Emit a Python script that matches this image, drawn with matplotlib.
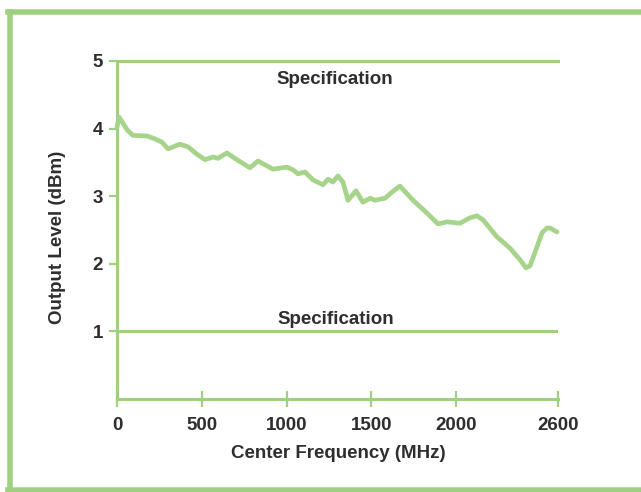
import matplotlib
matplotlib.use("Agg")
import matplotlib.pyplot as plt
from matplotlib.lines import Line2D

plt.rcParams['font.family'] = ['Liberation Sans', 'DejaVu Sans']
plt.rcParams['font.weight'] = 'bold'

freq_mhz = [0, 12, 30, 60, 94, 177, 212, 265, 301, 371, 419, 472, 519, 566, 595, 648,
            707, 784, 831, 920, 973, 1002, 1038, 1067, 1108, 1156, 1214, 1244, 1273,
            1303, 1332, 1362, 1409, 1450, 1492, 1521, 1580, 1621, 1668, 1745, 1828,
            1892, 1946, 2022, 2081, 2122, 2158, 2240, 2317, 2376, 2411, 2435, 2476,
            2506, 2535, 2553, 2594]
level_dbm = [4.02, 4.17, 4.10, 3.98, 3.90, 3.89, 3.86, 3.80, 3.70, 3.77, 3.73, 3.62,
             3.54, 3.58, 3.56, 3.64, 3.54, 3.42, 3.52, 3.40, 3.42, 3.43, 3.39, 3.33,
             3.36, 3.24, 3.17, 3.25, 3.21, 3.30, 3.21, 2.94, 3.08, 2.91, 2.97, 2.94,
             2.97, 3.06, 3.15, 2.94, 2.75, 2.59, 2.62, 2.60, 2.68, 2.71, 2.65, 2.40,
             2.23, 2.06, 1.94, 1.97, 2.25, 2.46, 2.53, 2.53, 2.47]
spec_upper = 5
spec_lower = 1
x_ticks = [0, 500, 1000, 1500, 2000, 2600]
x_tick_labels = ["0", "500", "1000", "1500", "2000", "2600"]
y_ticks = [1, 2, 3, 4, 5]
y_tick_labels = ["1", "2", "3", "4", "5"]

green = '#9fd080'
curve_green = '#a6d48a'
text_col = '#2e2e2e'
fs = 13.5

fig = plt.figure(figsize=(6.41, 4.92), dpi=100)
fig.patch.set_facecolor('white')
ax = fig.add_axes([117/641, 93/492, 441/641, 338/492])
ax.set_xlim(0, 2600)
ax.set_ylim(0, 5)

ax.plot(freq_mhz, level_dbm, color=curve_green, lw=3.4, solid_capstyle='round',
        solid_joinstyle='round', clip_on=False, zorder=3)
ax.axhline(spec_lower, color=green, lw=2.2, zorder=2)

for s in ['left', 'bottom', 'top']:
    ax.spines[s].set_color(green)
    ax.spines[s].set_linewidth(2.2)
ax.spines['right'].set_visible(False)

ax.set_xticks(x_ticks)
ax.set_xticklabels(x_tick_labels)
ax.set_yticks(y_ticks)
ax.set_yticklabels(y_tick_labels)
ax.tick_params(axis='x', direction='inout', length=12, width=1.6, color=green,
               pad=7, labelsize=fs, labelcolor=text_col)
ax.tick_params(axis='y', direction='out', length=6, width=1.6, color=green,
               pad=4, labelsize=fs, labelcolor=text_col)

ax.text(1285, 4.72, "Specification", ha='center', va='center', fontsize=fs,
        color=text_col, fontweight='bold')
ax.text(1290, 1.17, "Specification", ha='center', va='center', fontsize=fs,
        color=text_col, fontweight='bold')

fig.text(338/641, 1 - 453/492, "Center Frequency (MHz)", ha='center', va='center',
         fontsize=fs, color=text_col, fontweight='bold')
fig.text(57/641, 1 - 237/492, "Output Level (dBm)", ha='center', va='center',
         rotation=90, fontsize=fs, color=text_col, fontweight='bold')

# decorative frame (left, top, bottom)
W, H = 641, 492
frame_lw = 4.0
fig.add_artist(Line2D([10/W, 10/W], [1 - 12/H, 1 - 490/H], color=green, lw=frame_lw,
                      transform=fig.transFigure))
fig.add_artist(Line2D([8/W, 1.0], [1 - 12/H, 1 - 12/H], color=green, lw=frame_lw,
                      transform=fig.transFigure))
fig.add_artist(Line2D([8/W, 1.0], [1 - 490/H, 1 - 490/H], color=green, lw=frame_lw,
                      transform=fig.transFigure))

fig.savefig("out.png", dpi=100, facecolor='white')
